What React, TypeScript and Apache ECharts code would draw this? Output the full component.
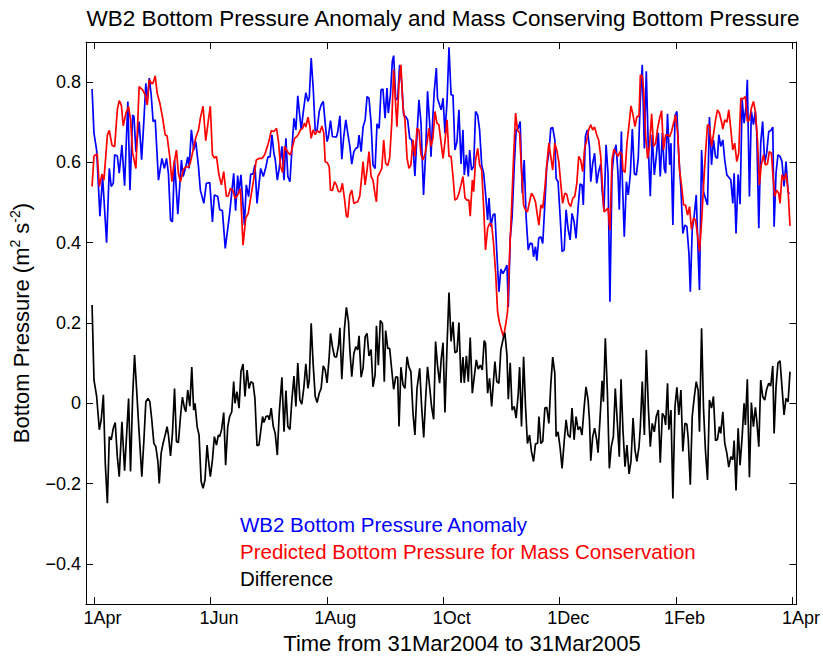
import React, { useEffect, useRef } from 'react';
import * as echarts from 'echarts';

const FONT = '"Liberation Sans", Arial, Helvetica, sans-serif';

const TITLE = 'WB2 Bottom Pressure Anomaly and Mass Conserving Bottom Pressure';
const X_NAME = 'Time from 31Mar2004 to 31Mar2005';

// x in days after 1 Apr 2004
const X_MIN = -4.17;
const X_MAX = 367.1;
const X_TICK_DAYS = [0, 60.83, 121.67, 182.5, 243.33, 304.17, 365];
const X_TICK_LABELS = ['1Apr', '1Jun', '1Aug', '1Oct', '1Dec', '1Feb', '1Apr'];

const Y_MIN = -0.5;
const Y_MAX = 0.9;
const Y_TICKS = [-0.4, -0.2, 0, 0.2, 0.4, 0.6, 0.8];
const Y_TICK_LABELS = ['\u22120.4', '\u22120.2', '0', '0.2', '0.4', '0.6', '0.8'];

const LEGEND_LABELS = [
  'WB2 Bottom Pressure Anomaly',
  'Predicted Bottom Pressure for Mass Conservation',
  'Difference',
];
const COLORS = ['#0000ff', '#ff0000', '#000000'];

const BLUE: [number, number][] = [
  [-1.0,0.783],[0.0,0.673],[1.4,0.63],[3.1,0.466],[4.5,0.565],[6.6,0.4],[8.0,0.585],[9.0,0.54],[10.1,0.548],[10.8,0.619],[12.2,0.616],[13.2,0.573],[14.6,0.643],[16.0,0.542],[17.7,0.752],[18.8,0.531],[20.2,0.718],[20.9,0.714],[21.9,0.627],[23.6,0.702],[24.9,0.607],[26.1,0.706],[27.1,0.797],[27.8,0.748],[28.9,0.81],[29.9,0.768],[30.9,0.702],[32.0,0.706],[33.7,0.556],[35.5,0.61],[36.8,0.585],[37.9,0.61],[38.9,0.573],[40.0,0.457],[41.0,0.452],[42.1,0.606],[43.8,0.471],[45.7,0.606],[46.6,0.565],[48.0,0.59],[49.0,0.614],[49.7,0.585],[50.9,0.681],[52.1,0.631],[53.2,0.652],[54.6,0.59],[55.6,0.531],[57.4,0.498],[58.7,0.548],[60.5,0.55],[61.9,0.452],[62.9,0.519],[64.7,0.515],[65.7,0.482],[67.1,0.48],[68.6,0.386],[70.9,0.473],[73.0,0.573],[74.0,0.48],[75.1,0.567],[75.8,0.527],[76.8,0.569],[78.6,0.444],[79.6,0.544],[80.8,0.515],[81.9,0.571],[83.1,0.571],[84.1,0.594],[85.2,0.498],
  [87.1,0.585],[88.5,0.565],[89.9,0.59],[90.9,0.614],[92.0,0.614],[93.0,0.669],[94.0,0.623],[94.7,0.608],[95.8,0.556],[96.8,0.585],[98.2,0.64],[99.3,0.556],[100.3,0.66],[101.3,0.565],[102.4,0.552],[103.4,0.631],[104.5,0.71],[105.5,0.681],[106.5,0.766],[107.2,0.731],[108.3,0.681],[109.3,0.723],[110.7,0.774],[111.8,0.752],[112.5,0.761],[113.5,0.86],[114.6,0.781],[115.6,0.679],[116.6,0.681],[117.7,0.727],[118.7,0.743],[119.8,0.752],[120.8,0.698],[121.8,0.652],[122.5,0.664],[123.6,0.704],[124.6,0.664],[125.7,0.664],[126.7,0.663],[127.4,0.677],[128.5,0.716],[129.5,0.608],[130.5,0.664],[131.6,0.706],[132.6,0.673],[133.7,0.64],[134.7,0.596],[135.8,0.627],[136.8,0.635],[137.8,0.637],[138.5,0.668],[139.6,0.627],[140.6,0.688],[141.7,0.706],[142.7,0.764],[143.7,0.76],[144.8,0.698],[145.8,0.594],[146.9,0.585],[147.9,0.696],[149.0,0.685],[150.0,0.781],[151.0,0.783],[152.1,0.71],[153.1,0.785],[153.8,0.723],[154.9,0.768],[155.9,0.852],[156.6,0.866],[157.7,0.756],[158.7,0.758],[159.7,0.843],[160.8,0.798],[161.8,0.718],[162.9,0.714],[163.9,0.706],[165.0,0.66],[166.0,0.656],[167.0,0.619],[167.7,0.566],[168.8,0.668],[169.8,0.756],[170.9,0.698],[171.6,0.598],[172.2,0.519],[173.3,0.623],[174.3,0.777],[175.4,0.698],[176.1,0.614],[176.8,0.689],[177.8,0.777],[178.9,0.835],[179.5,0.76],[180.6,0.743],
  [181.4,0.731],[182.4,0.76],[183.4,0.673],[184.5,0.752],[185.5,0.887],[186.6,0.768],[187.6,0.768],[188.6,0.631],[189.7,0.652],[190.7,0.731],[191.8,0.596],[192.8,0.681],[193.5,0.569],[194.6,0.619],[195.6,0.565],[196.3,0.631],[197.3,0.581],[198.4,0.59],[199.4,0.727],[200.5,0.718],[201.5,0.681],[202.6,0.594],[203.6,0.573],[204.6,0.523],[205.7,0.457],[206.4,0.511],[207.4,0.44],[208.5,0.469],[209.5,0.472],[210.6,0.365],[211.6,0.278],[212.6,0.334],[213.7,0.323],[214.7,0.332],[215.8,0.344],[216.5,0.24],[217.5,0.411],[218.5,0.465],[219.6,0.59],[220.6,0.681],[221.7,0.685],[222.7,0.702],[223.8,0.523],[224.8,0.606],[225.8,0.465],[226.9,0.382],[227.9,0.399],[229.0,0.397],[229.7,0.365],[230.7,0.39],[231.4,0.355],[232.4,0.411],[233.5,0.415],[234.5,0.398],[235.6,0.498],[236.6,0.59],[237.7,0.623],[238.7,0.685],[239.7,0.687],[240.8,0.656],[241.5,0.56],[242.5,0.552],[243.6,0.465],[244.6,0.378],[245.7,0.382],[246.7,0.482],[247.7,0.436],[248.8,0.407],[249.8,0.473],[250.9,0.452],[251.9,0.411],[253.0,0.49],[254.0,0.546],[255.0,0.544],[255.7,0.494],[256.8,0.665],[257.8,0.681],[258.9,0.64],[259.6,0.552],[260.6,0.598],[261.6,0.623],[262.7,0.548],[263.7,0.577],[264.8,0.596],[265.5,0.531],[266.5,0.482],[267.6,0.644],[268.6,0.573],[269.6,0.253],[270.7,0.573],[271.7,0.623],[272.8,0.644],[273.8,0.573],[274.5,0.482],[275.6,0.677],
  [276.1,0.556],[277.1,0.415],[278.2,0.552],[279.2,0.519],[280.3,0.573],[281.3,0.683],[282.4,0.571],[283.4,0.569],[284.4,0.61],[285.5,0.756],[286.5,0.843],[287.6,0.635],[288.6,0.827],[289.7,0.631],[290.7,0.516],[291.7,0.669],[292.8,0.569],[293.8,0.614],[294.9,0.674],[295.9,0.565],[297.0,0.673],[298.0,0.585],[298.7,0.573],[299.7,0.721],[300.8,0.594],[301.5,0.648],[302.5,0.444],[303.6,0.716],[304.6,0.727],[305.6,0.614],[306.7,0.535],[307.7,0.423],[308.8,0.444],[309.8,0.44],[310.9,0.373],[311.6,0.278],[312.6,0.432],[313.6,0.465],[314.7,0.519],[315.7,0.373],[316.4,0.282],[317.5,0.631],[318.5,0.527],[319.5,0.511],[320.6,0.494],[321.6,0.713],[322.7,0.594],[323.7,0.656],[324.8,0.614],[325.8,0.61],[326.5,0.669],[327.5,0.64],[328.6,0.656],[329.6,0.606],[330.7,0.569],[331.7,0.563],[332.8,0.556],[333.8,0.498],[334.5,0.573],[335.5,0.423],[336.6,0.57],[337.6,0.496],[338.7,0.756],[339.7,0.698],[340.8,0.743],[341.4,0.806],[342.5,0.515],[343.5,0.727],[344.6,0.694],[345.6,0.727],[346.3,0.677],[347.4,0.436],[348.4,0.648],[349.4,0.702],[350.5,0.598],[351.5,0.623],[352.6,0.677],[353.6,0.679],[354.7,0.688],[355.4,0.44],[356.4,0.573],[357.4,0.619],[358.5,0.615],[359.5,0.602],[360.6,0.54],[361.6,0.602],[362.7,0.527],[363.3,0.521],
];

const RED: [number, number][] = [
  [-1.0,0.54],[0.0,0.616],[1.7,0.621],[2.8,0.54],[4.2,0.571],[5.2,0.556],[7.0,0.668],[8.0,0.68],[9.4,0.643],[10.8,0.639],[12.2,0.731],[13.2,0.754],[14.3,0.743],[15.3,0.691],[16.7,0.723],[18.1,0.739],[19.1,0.706],[20.2,0.623],[21.9,0.585],[23.6,0.789],[25.4,0.781],[26.8,0.768],[27.8,0.743],[28.9,0.806],[30.2,0.796],[30.9,0.798],[32.0,0.816],[33.0,0.773],[34.4,0.748],[35.8,0.713],[37.2,0.669],[38.2,0.666],[39.6,0.614],[40.7,0.552],[41.7,0.594],[43.1,0.631],[44.1,0.573],[45.2,0.552],[46.6,0.581],[48.0,0.59],[49.4,0.588],[50.4,0.6],[51.8,0.631],[53.2,0.662],[54.6,0.68],[55.6,0.711],[57.0,0.74],[58.4,0.654],[59.8,0.706],[60.8,0.74],[61.9,0.619],[62.9,0.611],[64.0,0.615],[65.3,0.569],[66.6,0.544],[67.8,0.577],[69.2,0.515],[70.2,0.517],[71.3,0.535],[72.6,0.531],[73.7,0.51],[75.1,0.519],[76.5,0.535],[77.9,0.394],[79.3,0.461],[80.6,0.473],[82.0,0.515],[83.4,0.556],[84.8,0.606],[86.2,0.61],
  [87.8,0.61],[89.2,0.619],[90.6,0.64],[91.6,0.656],[92.6,0.679],[94.0,0.677],[95.4,0.685],[96.5,0.648],[97.5,0.59],[98.6,0.575],[99.6,0.64],[100.6,0.631],[101.7,0.623],[102.7,0.619],[103.8,0.64],[104.8,0.66],[105.9,0.664],[106.9,0.671],[107.9,0.681],[109.0,0.685],[110.0,0.698],[110.7,0.688],[111.8,0.713],[112.8,0.69],[113.5,0.66],[114.5,0.681],[115.6,0.669],[116.6,0.679],[118.0,0.674],[119.1,0.691],[120.1,0.673],[120.8,0.602],[121.8,0.6],[122.9,0.59],[123.6,0.531],[124.6,0.53],[125.7,0.552],[126.7,0.544],[127.8,0.527],[128.8,0.527],[129.8,0.548],[130.9,0.51],[131.9,0.466],[132.6,0.463],[133.7,0.519],[134.7,0.531],[135.8,0.498],[136.8,0.5],[137.8,0.502],[138.9,0.516],[139.9,0.565],[140.6,0.602],[141.7,0.544],[142.7,0.581],[143.7,0.627],[144.8,0.565],[145.8,0.556],[146.9,0.519],[147.6,0.502],[148.3,0.565],[149.3,0.573],[150.4,0.585],[151.4,0.656],[152.4,0.598],[153.5,0.592],[154.5,0.611],[155.6,0.698],[156.6,0.831],[157.7,0.739],[158.3,0.689],[159.4,0.798],[160.4,0.843],[161.5,0.735],[162.5,0.706],[163.6,0.61],[164.6,0.585],[165.6,0.594],[166.7,0.656],[167.7,0.615],[168.8,0.685],[169.8,0.681],[170.9,0.619],[171.9,0.606],[172.9,0.619],[174.0,0.648],[175.0,0.685],[176.1,0.64],[177.1,0.66],[178.2,0.727],[179.2,0.698],[180.2,0.694],
  [181.4,0.648],[182.4,0.61],[183.4,0.652],[184.5,0.706],[185.5,0.615],[186.6,0.615],[187.6,0.565],[188.6,0.506],[189.7,0.51],[190.7,0.523],[191.8,0.544],[192.8,0.565],[193.9,0.511],[194.9,0.506],[195.9,0.506],[196.6,0.466],[197.7,0.556],[198.4,0.527],[199.4,0.606],[200.5,0.635],[201.5,0.594],[202.6,0.581],[203.6,0.49],[204.6,0.382],[205.7,0.436],[206.7,0.448],[207.8,0.446],[208.8,0.398],[209.9,0.323],[210.9,0.228],[211.9,0.2],[213.0,0.182],[214.0,0.165],[215.1,0.195],[216.1,0.228],[217.2,0.373],[218.2,0.485],[219.2,0.606],[220.3,0.723],[221.3,0.681],[222.4,0.673],[223.4,0.581],[224.5,0.494],[225.5,0.481],[226.5,0.477],[227.6,0.502],[228.6,0.523],[229.7,0.515],[230.7,0.502],[231.8,0.465],[232.5,0.444],[233.5,0.494],[234.5,0.486],[235.6,0.536],[236.6,0.594],[237.7,0.648],[238.7,0.615],[239.7,0.581],[240.8,0.648],[241.8,0.631],[242.9,0.602],[243.9,0.548],[244.9,0.498],[246.0,0.523],[247.0,0.521],[248.1,0.498],[249.1,0.49],[250.2,0.511],[251.2,0.515],[252.3,0.548],[253.3,0.615],[254.3,0.606],[255.4,0.577],[256.4,0.635],[257.5,0.656],[258.5,0.681],[259.6,0.694],[260.6,0.681],[261.6,0.688],[262.7,0.669],[263.7,0.656],[264.8,0.615],[265.8,0.531],[266.5,0.477],[267.6,0.481],[268.6,0.486],[269.6,0.432],[270.7,0.606],[271.7,0.633],[272.8,0.623],[273.8,0.615],[274.9,0.627],[275.9,0.619],
  [276.4,0.581],[277.5,0.575],[278.5,0.648],[279.6,0.694],[280.6,0.741],[281.7,0.718],[282.7,0.689],[283.7,0.714],[284.8,0.716],[285.5,0.818],[286.5,0.814],[287.2,0.781],[288.3,0.664],[289.3,0.61],[290.3,0.64],[291.4,0.721],[292.4,0.64],[293.5,0.648],[294.5,0.685],[295.6,0.71],[296.6,0.729],[297.6,0.631],[298.7,0.669],[299.7,0.669],[300.8,0.664],[301.8,0.677],[302.9,0.699],[303.9,0.718],[305.0,0.673],[306.0,0.581],[307.0,0.544],[308.1,0.494],[309.1,0.494],[310.2,0.469],[311.2,0.49],[312.2,0.434],[313.3,0.461],[314.3,0.457],[315.4,0.419],[316.4,0.378],[317.5,0.452],[318.5,0.54],[319.5,0.619],[320.6,0.694],[321.6,0.689],[322.7,0.64],[323.7,0.669],[324.8,0.706],[325.8,0.731],[326.8,0.723],[327.9,0.702],[328.6,0.683],[329.6,0.706],[330.7,0.7],[331.7,0.731],[332.8,0.681],[333.8,0.631],[334.8,0.648],[335.9,0.602],[336.9,0.623],[338.0,0.76],[339.0,0.758],[340.4,0.764],[341.4,0.702],[342.5,0.706],[343.5,0.735],[344.6,0.752],[345.6,0.727],[346.7,0.656],[347.7,0.544],[348.7,0.594],[349.8,0.619],[350.8,0.594],[351.9,0.596],[352.9,0.627],[354.0,0.623],[354.7,0.573],[355.7,0.515],[356.7,0.531],[357.8,0.523],[358.5,0.498],[359.5,0.569],[360.6,0.556],[361.6,0.573],[362.7,0.531],[363.7,0.442],
];

const BLACK: [number, number][] = [
  [-1.0,0.245],[0.0,0.058],[1.4,0.017],[2.8,-0.066],[3.8,-0.041],[4.9,0.021],[5.9,-0.149],[7.0,-0.249],[8.0,-0.083],[9.0,-0.091],[10.1,-0.062],[11.1,-0.048],[12.2,-0.133],[13.2,-0.183],[14.6,-0.046],[16.0,-0.168],[17.0,-0.083],[18.1,0.012],[19.1,-0.17],[20.2,0.017],[21.2,0.12],[22.2,0.041],[23.3,-0.05],[25.0,-0.183],[26.1,-0.091],[27.1,0.004],[28.2,0.012],[29.2,0.004],[30.2,-0.041],[31.3,-0.1],[32.3,-0.108],[33.4,-0.145],[34.1,-0.2],[35.1,-0.124],[36.1,-0.1],[37.2,-0.079],[38.2,-0.058],[38.9,-0.079],[40.0,-0.131],[41.0,-0.075],[42.1,0.037],[43.1,-0.095],[44.1,-0.098],[45.2,-0.033],[46.2,0.015],[47.3,-0.012],[48.0,-0.021],[49.0,0.033],[50.1,-0.007],[51.1,0.09],[52.1,-0.017],[52.8,0],[53.9,-0.058],[54.9,-0.079],[56.0,-0.195],[57.0,-0.212],[58.0,-0.191],[59.1,-0.104],[59.8,-0.141],[60.8,-0.183],[61.9,-0.141],[62.9,-0.083],[64.0,-0.104],[65.0,-0.079],[65.7,-0.083],[66.7,-0.065],[67.8,-0.023],[68.8,-0.154],[69.9,-0.058],[70.9,-0.033],[72.0,-0.021],[73.0,0.054],[73.7,0],[74.7,0.029],[75.8,-0.012],[76.8,0.079],[77.9,0.098],[78.9,0.017],[80.0,0.083],[81.0,0.037],[82.0,0.054],[83.1,0.05],[84.1,0.012],[85.2,-0.106],[86.2,-0.104],
  [88.1,-0.033],[88.8,-0.048],[89.9,-0.033],[90.9,-0.031],[91.6,-0.041],[92.6,-0.012],[93.7,-0.058],[94.7,-0.075],[95.8,-0.129],[96.8,-0.025],[98.2,0.065],[99.3,-0.071],[100.3,0.032],[101.3,-0.058],[102.4,-0.065],[103.4,0.008],[104.5,0.068],[105.5,-0.008],[106.5,0.1],[107.6,0.008],[108.6,-0.002],[109.7,0.041],[110.7,0.098],[111.8,0.037],[112.5,0.058],[113.5,0.199],[114.5,0.1],[115.6,0.017],[116.6,0.002],[117.7,0.025],[118.7,0.037],[119.8,0.093],[120.8,0.083],[121.8,0.051],[122.9,0.115],[123.6,0.174],[124.6,0.141],[125.7,0.116],[126.7,0.115],[127.8,0.145],[128.5,0.188],[129.5,0.06],[130.9,0.187],[131.9,0.239],[133.0,0.203],[133.7,0.133],[134.7,0.066],[135.8,0.124],[136.8,0.141],[137.8,0.133],[138.5,0.168],[139.6,0.065],[140.6,0.087],[141.7,0.166],[142.7,0.174],[143.7,0.118],[144.8,0.134],[145.8,0.041],[146.9,0.071],[147.6,0.193],[148.6,0.095],[149.6,0.206],[150.7,0.199],[151.7,0.054],[152.4,0.181],[153.5,0.137],[154.5,0.137],[155.6,0.083],[156.6,0.035],[157.7,0.066],[158.7,0.065],[159.4,-0.058],[160.4,0.09],[161.5,0.046],[162.5,0.037],[163.6,0.116],[164.6,0.09],[165.6,0.079],[166.7,-0.025],[167.7,-0.079],[168.8,0.037],[170.2,0.087],[171.2,-0.008],[172.3,-0.085],[173.3,0.012],[174.3,0.091],[175.4,0.041],[176.4,-0.008],[177.5,-0.04],[178.5,0.154],[179.5,0.095],[180.6,0.05],
  [181.4,0.108],[182.4,0.151],[183.4,-0.023],[184.5,0.145],[185.5,0.276],[186.6,0.154],[187.6,0.203],[188.6,0.126],[189.7,0.129],[190.7,0.201],[191.8,0.051],[192.8,0.115],[193.5,0.051],[194.6,0.118],[195.6,0.054],[196.6,0.164],[197.7,0.025],[198.7,0.066],[199.8,0.108],[200.8,0.085],[201.9,0.095],[202.9,0.083],[203.9,0.156],[204.6,0.149],[205.7,0.025],[206.7,0.062],[207.8,-0.008],[208.8,0.058],[209.5,0.104],[210.5,0.054],[211.6,0.05],[212.6,0.133],[213.7,0.158],[214.7,0.176],[215.8,0.12],[216.5,0.01],[217.5,0.101],[218.5,-0.017],[219.6,-0.008],[220.6,-0.037],[221.7,0.025],[222.4,0.09],[223.4,-0.058],[224.5,0.116],[225.5,-0.008],[226.5,-0.1],[227.6,-0.079],[228.6,-0.12],[229.7,-0.145],[230.7,-0.101],[231.8,-0.1],[232.5,-0.033],[233.5,-0.1],[234.5,-0.095],[235.6,-0.012],[236.6,-0.01],[237.7,-0.05],[238.7,0.046],[239.7,0.115],[240.8,0.075],[241.5,-0.083],[242.5,-0.071],[243.6,-0.112],[244.6,-0.162],[245.7,-0.095],[246.7,-0.041],[247.7,-0.079],[248.8,-0.085],[249.8,-0.012],[250.9,-0.091],[251.9,-0.033],[253.0,-0.066],[254.0,-0.058],[255.0,-0.079],[256.1,-0.012],[257.1,0.041],[258.2,0.008],[258.9,-0.041],[259.6,-0.143],[260.6,-0.083],[261.6,-0.062],[262.7,-0.091],[263.4,-0.123],[264.4,-0.041],[265.5,0.056],[266.2,0.004],[267.2,0.162],[268.3,0.025],[269.3,-0.162],[270.3,-0.108],[271.4,-0.083],[272.4,0.037],[273.5,-0.05],[274.5,-0.133],
  [275.4,0.06],[276.4,-0.066],[277.5,-0.158],[278.5,-0.104],[279.6,-0.176],[280.6,-0.145],[281.7,-0.037],[282.7,-0.116],[283.7,-0.145],[284.8,-0.108],[285.5,-0.058],[286.5,0.054],[287.6,-0.079],[288.6,0.133],[289.7,-0.012],[290.7,-0.108],[291.7,-0.05],[292.8,-0.071],[293.8,-0.033],[294.9,-0.017],[295.9,-0.148],[297.0,-0.025],[298.0,-0.033],[298.7,-0.054],[299.7,0.05],[300.4,-0.066],[301.5,-0.017],[302.5,-0.237],[303.6,-0.008],[304.6,0.04],[305.6,-0.029],[306.7,0.033],[307.7,-0.12],[308.8,-0.05],[309.8,-0.052],[310.5,-0.087],[311.6,-0.203],[312.6,-0.033],[313.6,0.012],[314.7,0.054],[315.7,0.032],[316.4,-0.071],[317.5,0.187],[318.5,-0.012],[319.5,-0.116],[320.6,-0.191],[321.6,0.008],[322.7,-0.012],[323.7,0.017],[324.8,-0.093],[325.8,-0.09],[326.8,-0.058],[327.5,-0.075],[328.6,-0.021],[329.6,-0.1],[330.7,-0.124],[331.7,-0.159],[332.8,-0.133],[333.8,-0.141],[334.5,-0.093],[335.5,-0.217],[336.6,-0.062],[337.6,-0.154],[338.7,-0.083],[339.7,0],[340.4,-0.054],[341.4,0.06],[342.5,-0.184],[343.5,0.002],[344.6,-0.058],[345.6,-0.01],[346.3,-0.041],[347.4,-0.108],[348.4,0.058],[349.4,0.017],[350.5,0.008],[351.5,0.035],[352.6,0.05],[353.6,0.043],[354.7,0.093],[355.4,-0.075],[356.4,0.041],[357.4,0.1],[358.5,0.106],[359.5,0.041],[360.6,-0.029],[361.6,0.012],[362.7,0.004],[363.7,0.079],
];

function xLabel(v: number): string {
  const i = X_TICK_DAYS.findIndex((t) => Math.abs(t - v) < 0.01);
  return i >= 0 ? X_TICK_LABELS[i] : '';
}
function yLabel(v: number): string {
  const i = Y_TICKS.findIndex((t) => Math.abs(t - v) < 1e-6);
  return i >= 0 ? Y_TICK_LABELS[i] : '';
}

export default function App() {
  const ref = useRef<HTMLDivElement>(null);
  useEffect(() => {
    if (!ref.current) return;
    const chart = echarts.init(ref.current, null, { renderer: 'svg' });
    const axisLine = { show: true, onZero: false, lineStyle: { color: '#000', width: 1 } };
    const tickStyle = { color: '#000', width: 1 };
    const xCommon = {
      type: 'value',
      min: X_MIN,
      max: X_MAX,
      axisLine,
      splitLine: { show: false },
      axisTick: { show: true, inside: true, length: 7, customValues: X_TICK_DAYS, lineStyle: tickStyle },
    };
    const yCommon = {
      type: 'value',
      min: Y_MIN,
      max: Y_MAX,
      axisLine,
      splitLine: { show: false },
      axisTick: { show: true, inside: true, length: 7, customValues: Y_TICKS, lineStyle: tickStyle },
    };
    const series = [BLUE, RED, BLACK].map((d, i) => ({
      type: 'line',
      name: LEGEND_LABELS[i],
      data: d,
      xAxisIndex: 0,
      yAxisIndex: 0,
      showSymbol: false,
      symbol: 'none',
      silent: true,
      lineStyle: { color: COLORS[i], width: 1.7 },
      z: 2 + i,
    }));
    chart.setOption({
      animation: false,
      backgroundColor: '#ffffff',
      grid: { left: 86, right: 25, top: 42, bottom: 52, containLabel: false },
      xAxis: [
        {
          ...xCommon,
          position: 'bottom',
          axisLabel: {
            show: true,
            customValues: X_TICK_DAYS,
            formatter: xLabel,
            color: '#000',
            fontFamily: FONT,
            fontSize: 18,
            margin: 5,
            padding: [0, 0, 0, 17],
          },
        },
        { ...xCommon, position: 'top', axisLabel: { show: false } },
      ],
      yAxis: [
        {
          ...yCommon,
          position: 'left',
          axisLabel: {
            show: true,
            customValues: Y_TICKS,
            formatter: yLabel,
            color: '#000',
            fontFamily: FONT,
            fontSize: 18,
            margin: 5,
          },
        },
        { ...yCommon, position: 'right', axisLabel: { show: false } },
      ],
      series,
      graphic: [
        {
          type: 'text',
          x: 443,
          y: 18,
          style: { text: TITLE, fill: '#000', fontFamily: FONT, fontSize: 22.5, align: 'center', verticalAlign: 'middle' },
        },
        {
          type: 'text',
          x: 462,
          y: 643,
          style: { text: X_NAME, fill: '#000', fontFamily: FONT, fontSize: 22, align: 'center', verticalAlign: 'middle' },
        },
        {
          type: 'text',
          x: 21,
          y: 323,
          rotation: Math.PI / 2,
          style: {
            text: '{n|Bottom Pressure (m}{s|2}{n| s}{s|-2}{n|)}',
            fill: '#000',
            align: 'center',
            verticalAlign: 'middle',
            rich: {
              n: { fontFamily: FONT, fontSize: 22, lineHeight: 26, fill: '#000' },
              s: { fontFamily: FONT, fontSize: 14, lineHeight: 12, verticalAlign: 'top', fill: '#000' },
            },
          },
        },
        ...LEGEND_LABELS.map((t, i) => ({
          type: 'text',
          x: 240,
          y: 524 + i * 27,
          style: { text: t, fill: COLORS[i], fontFamily: FONT, fontSize: 20.5, align: 'left', verticalAlign: 'middle' },
        })),
      ],
    });
    return () => chart.dispose();
  }, []);
  return (
    <div
      ref={ref}
      style={{ position: 'fixed', left: 0, top: 0, width: 823, height: 656, background: '#fff' }}
    />
  );
}
